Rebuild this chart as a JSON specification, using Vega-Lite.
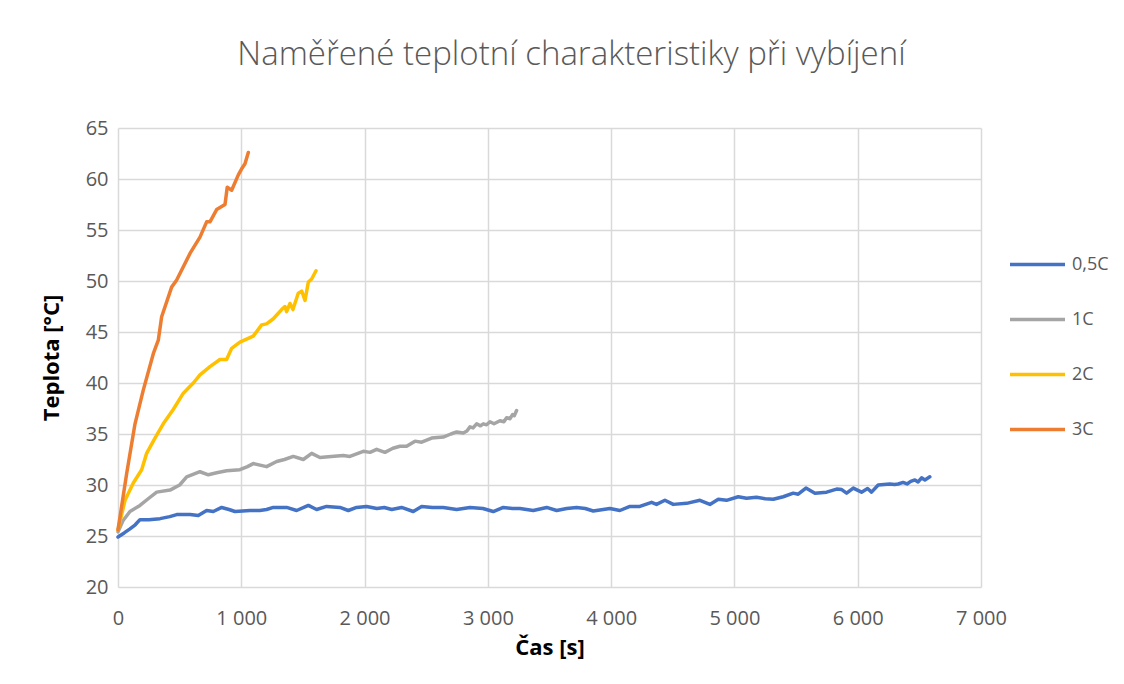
{
  "$schema": "https://vega.github.io/schema/vega-lite/v6.json",
  "autosize": "none",
  "width": 863,
  "height": 459,
  "padding": {"left": 118, "top": 128, "right": 143, "bottom": 97},
  "background": "white",
  "title": {
    "text": "Naměřené teplotní charakteristiky při vybíjení",
    "font": "Open Sans",
    "fontSize": 33,
    "fontWeight": 300,
    "color": "#595959",
    "anchor": "middle",
    "dx": 22,
    "offset": 46
  },
  "datasets": {
    "d": [
      {"s": "0,5C", "t": 0, "T": 24.9}, {"s": "0,5C", "t": 50, "T": 25.3}, {"s": "0,5C", "t": 97, "T": 25.7}, {"s": "0,5C", "t": 140, "T": 26.1}, {"s": "0,5C", "t": 178, "T": 26.6}, {"s": "0,5C", "t": 250, "T": 26.6}, {"s": "0,5C", "t": 341, "T": 26.7}, {"s": "0,5C", "t": 420, "T": 26.9}, {"s": "0,5C", "t": 476, "T": 27.1}, {"s": "0,5C", "t": 584, "T": 27.1}, {"s": "0,5C", "t": 651, "T": 27.0}, {"s": "0,5C", "t": 719, "T": 27.5}, {"s": "0,5C", "t": 773, "T": 27.4}, {"s": "0,5C", "t": 841, "T": 27.8}, {"s": "0,5C", "t": 900, "T": 27.6}, {"s": "0,5C", "t": 949, "T": 27.4}, {"s": "0,5C", "t": 1071, "T": 27.5}, {"s": "0,5C", "t": 1150, "T": 27.5}, {"s": "0,5C", "t": 1205, "T": 27.6}, {"s": "0,5C", "t": 1260, "T": 27.8}, {"s": "0,5C", "t": 1368, "T": 27.8}, {"s": "0,5C", "t": 1449, "T": 27.5}, {"s": "0,5C", "t": 1544, "T": 28.0}, {"s": "0,5C", "t": 1611, "T": 27.6}, {"s": "0,5C", "t": 1692, "T": 27.9}, {"s": "0,5C", "t": 1800, "T": 27.8}, {"s": "0,5C", "t": 1868, "T": 27.5}, {"s": "0,5C", "t": 1935, "T": 27.8}, {"s": "0,5C", "t": 2016, "T": 27.9}, {"s": "0,5C", "t": 2100, "T": 27.7}, {"s": "0,5C", "t": 2160, "T": 27.8}, {"s": "0,5C", "t": 2220, "T": 27.6}, {"s": "0,5C", "t": 2300, "T": 27.8}, {"s": "0,5C", "t": 2395, "T": 27.4}, {"s": "0,5C", "t": 2463, "T": 27.9}, {"s": "0,5C", "t": 2550, "T": 27.8}, {"s": "0,5C", "t": 2638, "T": 27.8}, {"s": "0,5C", "t": 2747, "T": 27.6}, {"s": "0,5C", "t": 2855, "T": 27.8}, {"s": "0,5C", "t": 2960, "T": 27.7}, {"s": "0,5C", "t": 3044, "T": 27.4}, {"s": "0,5C", "t": 3125, "T": 27.8}, {"s": "0,5C", "t": 3200, "T": 27.7}, {"s": "0,5C", "t": 3260, "T": 27.7}, {"s": "0,5C", "t": 3368, "T": 27.5}, {"s": "0,5C", "t": 3477, "T": 27.8}, {"s": "0,5C", "t": 3558, "T": 27.5}, {"s": "0,5C", "t": 3640, "T": 27.7}, {"s": "0,5C", "t": 3720, "T": 27.8}, {"s": "0,5C", "t": 3790, "T": 27.7}, {"s": "0,5C", "t": 3855, "T": 27.45}, {"s": "0,5C", "t": 3990, "T": 27.7}, {"s": "0,5C", "t": 4071, "T": 27.5}, {"s": "0,5C", "t": 4152, "T": 27.9}, {"s": "0,5C", "t": 4233, "T": 27.9}, {"s": "0,5C", "t": 4328, "T": 28.3}, {"s": "0,5C", "t": 4368, "T": 28.1}, {"s": "0,5C", "t": 4436, "T": 28.5}, {"s": "0,5C", "t": 4504, "T": 28.1}, {"s": "0,5C", "t": 4612, "T": 28.2}, {"s": "0,5C", "t": 4720, "T": 28.5}, {"s": "0,5C", "t": 4801, "T": 28.1}, {"s": "0,5C", "t": 4869, "T": 28.6}, {"s": "0,5C", "t": 4936, "T": 28.5}, {"s": "0,5C", "t": 5031, "T": 28.85}, {"s": "0,5C", "t": 5098, "T": 28.7}, {"s": "0,5C", "t": 5179, "T": 28.8}, {"s": "0,5C", "t": 5250, "T": 28.65}, {"s": "0,5C", "t": 5315, "T": 28.6}, {"s": "0,5C", "t": 5396, "T": 28.85}, {"s": "0,5C", "t": 5477, "T": 29.2}, {"s": "0,5C", "t": 5517, "T": 29.1}, {"s": "0,5C", "t": 5580, "T": 29.7}, {"s": "0,5C", "t": 5653, "T": 29.2}, {"s": "0,5C", "t": 5748, "T": 29.3}, {"s": "0,5C", "t": 5829, "T": 29.6}, {"s": "0,5C", "t": 5870, "T": 29.55}, {"s": "0,5C", "t": 5910, "T": 29.2}, {"s": "0,5C", "t": 5964, "T": 29.7}, {"s": "0,5C", "t": 6031, "T": 29.3}, {"s": "0,5C", "t": 6080, "T": 29.65}, {"s": "0,5C", "t": 6112, "T": 29.3}, {"s": "0,5C", "t": 6166, "T": 30.0}, {"s": "0,5C", "t": 6260, "T": 30.1}, {"s": "0,5C", "t": 6300, "T": 30.05}, {"s": "0,5C", "t": 6328, "T": 30.1}, {"s": "0,5C", "t": 6368, "T": 30.25}, {"s": "0,5C", "t": 6400, "T": 30.1}, {"s": "0,5C", "t": 6430, "T": 30.35}, {"s": "0,5C", "t": 6464, "T": 30.5}, {"s": "0,5C", "t": 6490, "T": 30.3}, {"s": "0,5C", "t": 6518, "T": 30.7}, {"s": "0,5C", "t": 6545, "T": 30.5}, {"s": "0,5C", "t": 6585, "T": 30.8},

      {"s": "1C", "t": 0, "T": 25.4}, {"s": "1C", "t": 40, "T": 26.5}, {"s": "1C", "t": 97, "T": 27.4}, {"s": "1C", "t": 178, "T": 28.0}, {"s": "1C", "t": 250, "T": 28.7}, {"s": "1C", "t": 314, "T": 29.3}, {"s": "1C", "t": 422, "T": 29.5}, {"s": "1C", "t": 500, "T": 30.0}, {"s": "1C", "t": 557, "T": 30.8}, {"s": "1C", "t": 665, "T": 31.3}, {"s": "1C", "t": 733, "T": 31.0}, {"s": "1C", "t": 800, "T": 31.2}, {"s": "1C", "t": 881, "T": 31.4}, {"s": "1C", "t": 989, "T": 31.5}, {"s": "1C", "t": 1050, "T": 31.8}, {"s": "1C", "t": 1097, "T": 32.1}, {"s": "1C", "t": 1205, "T": 31.8}, {"s": "1C", "t": 1287, "T": 32.3}, {"s": "1C", "t": 1350, "T": 32.5}, {"s": "1C", "t": 1422, "T": 32.8}, {"s": "1C", "t": 1503, "T": 32.5}, {"s": "1C", "t": 1571, "T": 33.1}, {"s": "1C", "t": 1638, "T": 32.7}, {"s": "1C", "t": 1730, "T": 32.8}, {"s": "1C", "t": 1827, "T": 32.9}, {"s": "1C", "t": 1881, "T": 32.8}, {"s": "1C", "t": 1990, "T": 33.3}, {"s": "1C", "t": 2044, "T": 33.2}, {"s": "1C", "t": 2098, "T": 33.5}, {"s": "1C", "t": 2165, "T": 33.2}, {"s": "1C", "t": 2230, "T": 33.6}, {"s": "1C", "t": 2287, "T": 33.8}, {"s": "1C", "t": 2341, "T": 33.8}, {"s": "1C", "t": 2409, "T": 34.3}, {"s": "1C", "t": 2463, "T": 34.2}, {"s": "1C", "t": 2544, "T": 34.6}, {"s": "1C", "t": 2638, "T": 34.7}, {"s": "1C", "t": 2700, "T": 35.0}, {"s": "1C", "t": 2747, "T": 35.2}, {"s": "1C", "t": 2801, "T": 35.1}, {"s": "1C", "t": 2830, "T": 35.3}, {"s": "1C", "t": 2855, "T": 35.7}, {"s": "1C", "t": 2880, "T": 35.6}, {"s": "1C", "t": 2909, "T": 36.0}, {"s": "1C", "t": 2940, "T": 35.8}, {"s": "1C", "t": 2963, "T": 36.0}, {"s": "1C", "t": 2990, "T": 35.9}, {"s": "1C", "t": 3017, "T": 36.2}, {"s": "1C", "t": 3050, "T": 36.0}, {"s": "1C", "t": 3098, "T": 36.3}, {"s": "1C", "t": 3130, "T": 36.2}, {"s": "1C", "t": 3152, "T": 36.6}, {"s": "1C", "t": 3180, "T": 36.5}, {"s": "1C", "t": 3200, "T": 36.9}, {"s": "1C", "t": 3215, "T": 36.8}, {"s": "1C", "t": 3233, "T": 37.3},

      {"s": "2C", "t": 0, "T": 25.6}, {"s": "2C", "t": 57, "T": 28.5}, {"s": "2C", "t": 124, "T": 30.2}, {"s": "2C", "t": 192, "T": 31.5}, {"s": "2C", "t": 232, "T": 33.1}, {"s": "2C", "t": 300, "T": 34.6}, {"s": "2C", "t": 367, "T": 36.0}, {"s": "2C", "t": 448, "T": 37.4}, {"s": "2C", "t": 530, "T": 39.0}, {"s": "2C", "t": 611, "T": 40.0}, {"s": "2C", "t": 665, "T": 40.8}, {"s": "2C", "t": 746, "T": 41.6}, {"s": "2C", "t": 827, "T": 42.3}, {"s": "2C", "t": 881, "T": 42.3}, {"s": "2C", "t": 922, "T": 43.4}, {"s": "2C", "t": 989, "T": 44.0}, {"s": "2C", "t": 1097, "T": 44.6}, {"s": "2C", "t": 1165, "T": 45.7}, {"s": "2C", "t": 1205, "T": 45.8}, {"s": "2C", "t": 1260, "T": 46.3}, {"s": "2C", "t": 1327, "T": 47.2}, {"s": "2C", "t": 1354, "T": 47.5}, {"s": "2C", "t": 1368, "T": 47.0}, {"s": "2C", "t": 1395, "T": 47.8}, {"s": "2C", "t": 1419, "T": 47.2}, {"s": "2C", "t": 1462, "T": 48.8}, {"s": "2C", "t": 1490, "T": 49.0}, {"s": "2C", "t": 1517, "T": 48.1}, {"s": "2C", "t": 1544, "T": 49.9}, {"s": "2C", "t": 1571, "T": 50.2}, {"s": "2C", "t": 1606, "T": 51.0},

      {"s": "3C", "t": 0, "T": 25.6}, {"s": "3C", "t": 70, "T": 31.1}, {"s": "3C", "t": 138, "T": 36.0}, {"s": "3C", "t": 205, "T": 39.3}, {"s": "3C", "t": 287, "T": 42.9}, {"s": "3C", "t": 327, "T": 44.2}, {"s": "3C", "t": 354, "T": 46.5}, {"s": "3C", "t": 435, "T": 49.4}, {"s": "3C", "t": 476, "T": 50.1}, {"s": "3C", "t": 584, "T": 52.7}, {"s": "3C", "t": 665, "T": 54.3}, {"s": "3C", "t": 719, "T": 55.8}, {"s": "3C", "t": 746, "T": 55.8}, {"s": "3C", "t": 800, "T": 57.0}, {"s": "3C", "t": 868, "T": 57.5}, {"s": "3C", "t": 886, "T": 59.2}, {"s": "3C", "t": 922, "T": 58.9}, {"s": "3C", "t": 976, "T": 60.4}, {"s": "3C", "t": 1003, "T": 61.0}, {"s": "3C", "t": 1030, "T": 61.5}, {"s": "3C", "t": 1057, "T": 62.6}
    ]
  },
  "data": {"name": "d"},
  "mark": {"type": "line", "strokeWidth": 3.5, "strokeCap": "round", "strokeJoin": "round"},
  "encoding": {
    "x": {
      "field": "t", "type": "quantitative",
      "scale": {"domain": [0, 7000], "nice": false},
      "axis": {
        "title": "Čas [s]",
        "values": [0, 1000, 2000, 3000, 4000, 5000, 6000, 7000],
        "labelExpr": "datum.value >= 1000 ? floor(datum.value / 1000) + ' 000' : '' + datum.value",
        "labelFlush": false,
        "labelPadding": 21,
        "titlePadding": 9
      }
    },
    "y": {
      "field": "T", "type": "quantitative",
      "scale": {"domain": [20, 65], "nice": false, "zero": false},
      "axis": {
        "title": "Teplota [°C]",
        "values": [20, 25, 30, 35, 40, 45, 50, 55, 60, 65],
        "labelFlush": false,
        "labelPadding": 10,
        "titlePadding": 22
      }
    },
    "color": {
      "field": "s", "type": "nominal",
      "scale": {"domain": ["0,5C", "1C", "2C", "3C"], "range": ["#4472C4", "#A5A5A5", "#FFC000", "#ED7D31"]},
      "legend": {
        "title": null,
        "orient": "none",
        "legendX": 890,
        "legendY": 107,
        "symbolType": "stroke",
        "symbolSize": 3025,
        "symbolStrokeWidth": 3.5,
        "labelFontSize": 18,
        "labelFont": "Open Sans",
        "labelColor": "#595959",
        "rowPadding": 16,
        "labelOffset": 5
      }
    },
    "order": {"field": "t", "type": "quantitative"}
  },
  "config": {
    "view": {"stroke": null},
    "axis": {
      "domain": false,
      "ticks": false,
      "grid": true,
      "gridColor": "#D9D9D9",
      "gridWidth": 1.5,
      "labelFont": "Open Sans",
      "labelFontSize": 20,
      "labelColor": "#595959",
      "titleFont": "Open Sans",
      "titleFontSize": 22,
      "titleFontWeight": "bold",
      "titleColor": "#000000"
    }
  }
}
